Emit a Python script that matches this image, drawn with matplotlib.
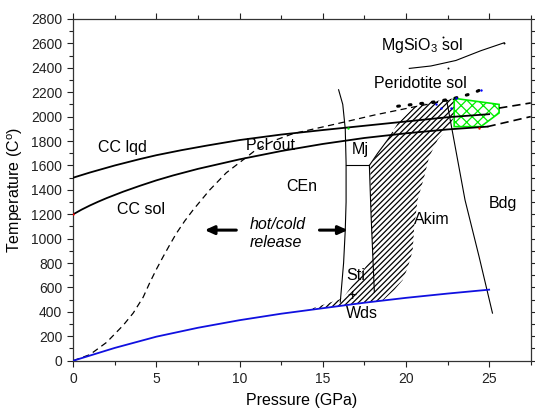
import matplotlib
matplotlib.use("Agg")
import matplotlib.pyplot as plt
from matplotlib.ticker import MultipleLocator

plt.rcParams['font.family'] = ['Liberation Sans', 'DejaVu Sans']
plt.rcParams['mathtext.fontset'] = 'custom'
plt.rcParams['mathtext.rm'] = 'Liberation Sans'
plt.rcParams['hatch.linewidth'] = 0.9

# ---- curves (P in GPa, T in C) ----
cc_lqd_p = [0, 1, 2.5, 4, 5, 6.5, 8, 10, 12.5, 15, 17.5, 20, 22.5, 25]
cc_lqd_t = [1500, 1542, 1600, 1652, 1684, 1725, 1762, 1808, 1853, 1890, 1925, 1960, 1995, 2020]

cc_sol_p = [0, 0.5, 1, 1.5, 2, 3, 4, 5, 6, 7.5, 10, 12.5, 15, 17.5, 20, 22.5, 24.9]
cc_sol_t = [1200, 1238, 1272, 1303, 1332, 1385, 1433, 1478, 1518, 1572, 1650, 1718, 1776,
            1825, 1863, 1895, 1918]

pcl_p = [0, 1, 2, 3, 3.6, 4.2, 4.6, 5.0, 5.4, 5.8, 6.2, 6.7, 7.2, 8.2, 9.2, 10.2,
         11, 12, 13.2, 14.5, 15.8, 18.1, 20.5, 22.9]
pcl_t = [0, 50, 150, 290, 390, 520, 640, 750, 852, 950, 1044, 1145, 1235, 1399, 1540, 1645,
         1730, 1800, 1860, 1900, 1940, 2013, 2080, 2142]

dash_up_p = [25.6, 27.5]
dash_up_t = [2070, 2112]
dash_lo_p = [24.9, 27.5]
dash_lo_t = [1918, 2000]

perid_p = [19.5, 21.8, 22.9, 24.0, 24.8]
perid_t = [2085, 2122, 2150, 2190, 2240]

mgsio3_p = [20.2, 21.5, 23.0, 24.5, 25.9]
mgsio3_t = [2395, 2415, 2460, 2540, 2605]

blue_p = [0, 2.5, 5, 7.5, 10, 12.5, 15, 17.5, 20, 22.5, 25]
blue_t = [0, 105, 197, 270, 332, 385, 430, 475, 515, 550, 582]

cen_p = [15.95, 16.2, 16.35, 16.4, 16.4, 16.35, 16.25, 16.05]
cen_t = [2220, 2100, 1900, 1620, 1300, 1070, 800, 480]

bdg_p = [22.45, 23.55, 24.4, 25.2]
bdg_t = [2130, 1317, 850, 390]

mj_p = [16.4, 17.8]
mj_t = [1600, 1600]
mj_akim_p = [17.8, 18.3, 18.9, 19.2]
mj_akim_t = [1600, 1700, 1810, 1870]
sti_akim_p = [17.8, 17.9, 18.1]
sti_akim_t = [1600, 1200, 560]

akim_p = [14.0, 16.0, 18.0, 18.6, 19.3, 19.8, 20.1, 20.4, 20.5, 20.7, 21.1, 21.4, 21.9, 22.7,
          22.9, 22.9, 21.5, 20.5, 19.5, 18.9, 18.3, 17.85, 17.9, 18.0, 16.2]
akim_t = [412, 448, 483, 492, 580, 660, 760, 900, 1100, 1317, 1508, 1672, 1808, 1945,
          2000, 2150, 2122, 2081, 1945, 1808, 1700, 1600, 1200, 850, 511]

green_p = [22.9, 25.6, 25.6, 24.5, 22.9]
green_t = [2150, 2100, 2030, 1918, 1918]

blue_dot_p = [21.8, 22.1, 22.7, 23.0, 24.5]
blue_dot_t = [2100, 2068, 2068, 2150, 2218]

labels = [
    ("CC lqd", 1.5, 1750),
    ("CC sol", 2.6, 1243),
    ("Pcl out", 10.4, 1760),
    ("Mj", 16.75, 1727),
    ("CEn", 12.8, 1428),
    ("MgSiO$_\\mathregular{3}$ sol", 18.5, 2580),
    ("Peridotite sol", 18.1, 2271),
    ("Akim", 20.5, 1153),
    ("Bdg", 25.0, 1288),
    ("Sti", 16.4, 702),
    ("+", 16.45, 535),
    ("Wds", 16.4, 383),
]

fig = plt.figure(figsize=(5.35, 4.11), dpi=100)
ax = fig.add_axes([0.137, 0.1224, 0.855, 0.8314])

# hatched Akim field and green cross-hatched field
ax.fill(akim_p, akim_t, facecolor='none', edgecolor='k', linewidth=0, hatch='//////', zorder=1)
ax.fill(green_p, green_t, facecolor='white', edgecolor='#00ee00', linewidth=1.2, hatch='xxx', zorder=2)

ax.plot(cc_lqd_p, cc_lqd_t, color='k', lw=1.3, zorder=3)
ax.plot(cc_sol_p, cc_sol_t, color='k', lw=1.3, zorder=3)
ax.plot(pcl_p, pcl_t, color='k', lw=0.9, ls=(0, (5, 3.5)), zorder=3)
ax.plot(dash_up_p, dash_up_t, color='k', lw=1.2, ls=(0, (5, 3)), zorder=3)
ax.plot(dash_lo_p, dash_lo_t, color='k', lw=1.2, ls=(0, (5, 3)), zorder=3)
ax.plot(perid_p, perid_t, color='k', lw=2.2, ls=(0, (0.6, 3.2)), dash_capstyle='round', zorder=3)
ax.plot(mgsio3_p, mgsio3_t, color='k', lw=0.8, zorder=3)
ax.plot(blue_p, blue_t, color='#1010e0', lw=1.3, zorder=4)

for px, py in [(cen_p, cen_t), (bdg_p, bdg_t), (mj_p, mj_t),
               (mj_akim_p, mj_akim_t), (sti_akim_p, sti_akim_t)]:
    ax.plot(px, py, color='k', lw=0.8, zorder=3)

ax.scatter(blue_dot_p, blue_dot_t, s=3, color='blue', zorder=5, linewidths=0)
ax.scatter([0, 24.4], [1200, 1904], s=3, color='red', zorder=5, linewidths=0)
ax.scatter([16.5], [1904], s=3, color='#00dd00', zorder=5, linewidths=0)
ax.scatter([22.2, 22.5, 25.9], [2655, 2400, 2605], s=2, color='k', zorder=5, linewidths=0)

for txt, x, y in labels:
    ax.text(x, y, txt, fontsize=11.5, ha='left', va='center', zorder=6)

ax.text(10.6, 1120, "hot/cold", fontsize=11.5, style='italic', ha='left', va='center')
ax.text(10.6, 965, "release", fontsize=11.5, style='italic', ha='left', va='center')
arrow = dict(arrowstyle='-|>,head_length=0.55,head_width=0.25', color='k', lw=2.2,
             shrinkA=0, shrinkB=0)
ax.annotate("", xy=(7.9, 1070), xytext=(9.8, 1070), arrowprops=arrow)
ax.annotate("", xy=(16.5, 1070), xytext=(14.8, 1070), arrowprops=arrow)

ax.set_xlim(0, 27.5)
ax.set_ylim(0, 2800)
ax.xaxis.set_major_locator(MultipleLocator(5))
ax.xaxis.set_minor_locator(MultipleLocator(2.5))
ax.yaxis.set_major_locator(MultipleLocator(200))
ax.yaxis.set_minor_locator(MultipleLocator(100))
ax.tick_params(which='both', direction='out', top=True, right=True, labelsize=10,
               width=0.8, colors='#222222', labelcolor='#222222')
ax.tick_params(which='major', length=4.5)
ax.tick_params(which='minor', length=2.8)
for s in ax.spines.values():
    s.set_linewidth(0.9)
    s.set_color('#333333')

ax.set_xlabel("Pressure (GPa)", fontsize=11.5, labelpad=5)
ax.set_ylabel("Temperature (C$^\\mathregular{o}$)", fontsize=11.5, labelpad=4)

fig.savefig("out.png", dpi=100)
